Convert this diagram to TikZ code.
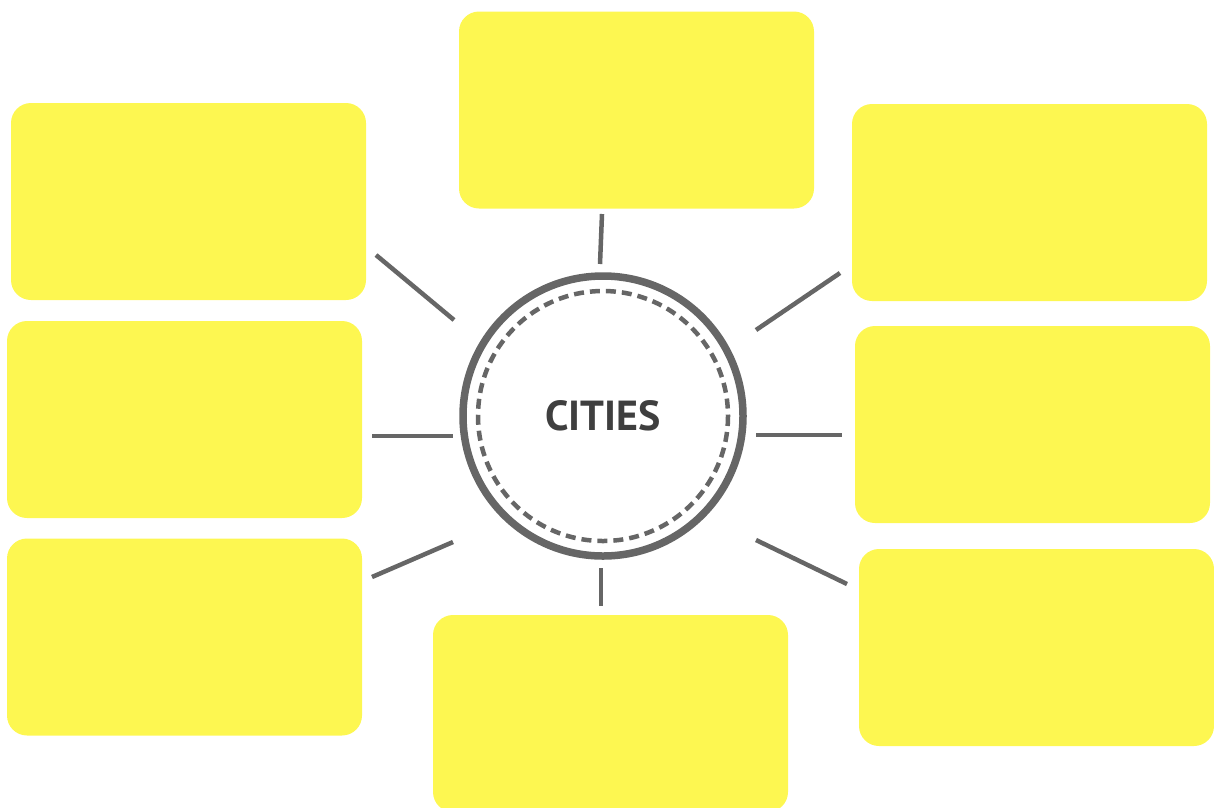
\documentclass[tikz,border=0pt]{standalone}
\usepackage{fontspec}
\setmainfont{PT Sans}
\usepackage{xcolor}
\usetikzlibrary{positioning}

\definecolor{padyellow}{HTML}{FDF751}
\definecolor{ringgray}{HTML}{666666}
\definecolor{labelgray}{HTML}{3F3F3F}

\begin{document}
\begin{tikzpicture}[
  x=1pt, y=-1pt,
  box/.style = {rectangle, fill=padyellow, rounded corners=20pt, minimum width=355pt, minimum height=197pt, inner sep=0pt},
  spoke/.style = {draw=ringgray, line width=4.5pt},
  hub/.style = {circle, draw=ringgray, line width=7.5pt, minimum size=280pt, fill=white, font=\bfseries\fontsize{42}{42}\selectfont, text=labelgray}
  ]
  \useasboundingbox (0,0) rectangle (1214,807);

  % Boxes
  \node[box] (top) at (636.5,110) {};
  \node[box] (left one) at (188.5,201.5) {};
  \node[box] (left two) at (184.5,419.5) {};
  \node[box] (left three) at (184.5,637) {};
  \node[box] (right one) at (1029.5,202.5) {};
  \node[box] (right two) at (1032.5,424.5) {};
  \node[box] (right three) at (1036.5,647.5) {};
  \node[box] (bottom) at (610.5,713.5) {};

  % Hub
  \node[hub] (cities) at (603,416) {CITIES};
  \draw[ringgray, line width=4.5pt, dash pattern=on 10pt off 6pt] (cities.center) circle (125);

  % Spoke ends
  \coordinate (t1) at (602,214);   \coordinate (t2) at (600,264);
  \coordinate (b1) at (601,568);   \coordinate (b2) at (601,606);
  \coordinate (l1) at (372,436);   \coordinate (l2) at (453,436);
  \coordinate (r1) at (756,435);   \coordinate (r2) at (842,435);
  \coordinate (ul1) at (376,255);  \coordinate (ul2) at (454,320);
  \coordinate (ll1) at (372,577);  \coordinate (ll2) at (453,542);
  \coordinate (ur1) at (756,330);  \coordinate (ur2) at (840,273);
  \coordinate (lr1) at (756,540);  \coordinate (lr2) at (847,584);

  % Spokes
  \draw[spoke] (t1) -- (t2);
  \draw[spoke] (b1) -- (b2);
  \draw[spoke] (l1) -- (l2);
  \draw[spoke] (r1) -- (r2);
  \draw[spoke] (ul1) -- (ul2);
  \draw[spoke] (ll1) -- (ll2);
  \draw[spoke] (ur1) -- (ur2);
  \draw[spoke] (lr1) -- (lr2);

\end{tikzpicture}
\end{document}
